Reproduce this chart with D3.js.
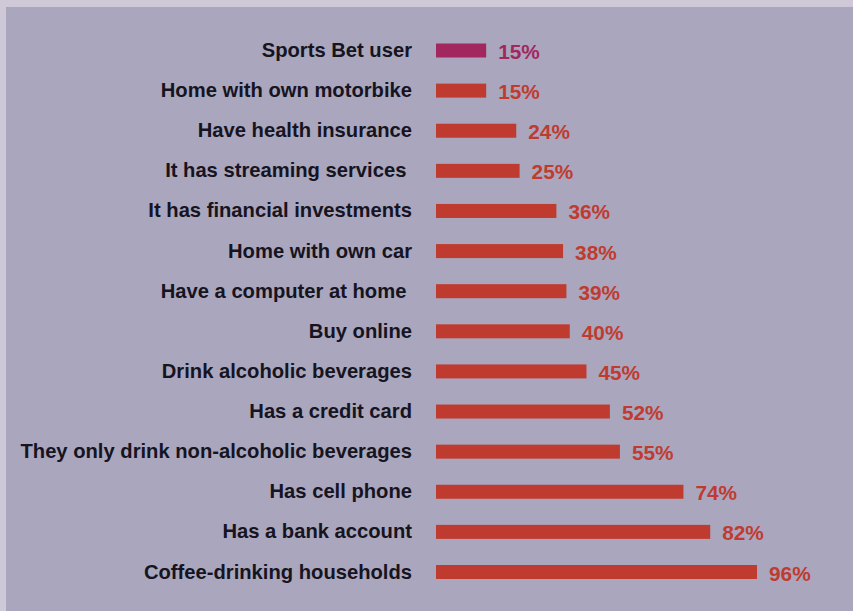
<!DOCTYPE html>
<html><head><meta charset="utf-8">
<script src="https://cdn.jsdelivr.net/npm/d3@7"></script>
<style>html,body{margin:0;padding:0;background:#cdc6d5;} text{white-space:pre;}</style>
</head><body>
<svg id="chart" width="853" height="611"></svg>
<script>
const categories = ["Sports Bet user","Home with own motorbike","Have health insurance","It has streaming services ","It has financial investments","Home with own car","Have a computer at home ","Buy online","Drink alcoholic beverages","Has a credit card","They only drink non-alcoholic beverages","Has cell phone","Has a bank account","Coffee-drinking households"];
const values = [15,15,24,25,36,38,39,40,45,52,55,74,82,96];
const highlight = "Sports Bet user";

const svg = d3.select("#chart");
svg.append("rect").attr("x",0).attr("y",0).attr("width",853).attr("height",611).attr("fill","#cfc8d7");
svg.append("rect").attr("x",6).attr("y",7).attr("width",847).attr("height",604).attr("fill","#aaa6bd");

const x = d3.scaleLinear().domain([0,100]).range([436, 770.4]);
const y = d3.scalePoint().domain(categories).range([50.5, 572]);
const barH = 14;
const color = c => c === highlight ? "#a3275f" : "#c03b2f";

const g = svg.append("g");
const rows = g.selectAll("g.row").data(categories.map((c,i)=>({c, v: values[i]}))).join("g").attr("class","row");
rows.append("rect")
  .attr("x", x(0)).attr("y", d => y(d.c) - barH/2)
  .attr("width", d => x(d.v) - x(0)).attr("height", barH)
  .attr("fill", d => color(d.c));
rows.append("text")
  .attr("x", 412).attr("y", d => y(d.c) - 0.5)
  .attr("text-anchor","end").attr("dominant-baseline","central")
  .attr("font-family","'Liberation Sans', Arial, sans-serif").attr("font-weight","bold")
  .attr("font-size", 20.2).attr("fill","#15141f")
  .text(d => d.c);
rows.append("text")
  .attr("x", d => x(d.v) + 12).attr("y", d => y(d.c) + 1)
  .attr("dominant-baseline","central")
  .attr("font-family","'Liberation Sans', Arial, sans-serif").attr("font-weight","bold")
  .attr("font-size", 20.8).attr("fill", d => color(d.c))
  .text(d => d.v + "%");
</script>
</body></html>
